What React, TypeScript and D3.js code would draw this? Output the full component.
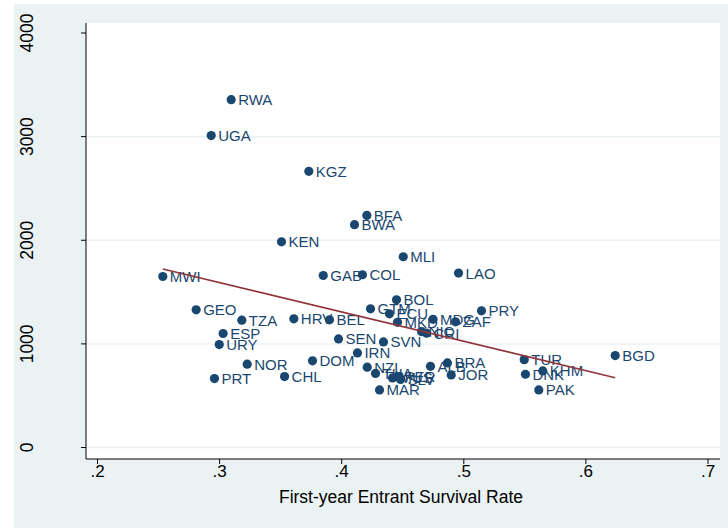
import React from "react";
import * as d3 from "d3";

const countries = ["RWA","UGA","KGZ","BFA","BWA","KEN","MLI","LAO","MWI","GAB","COL","BOL","GEO","GTM","ECU","PRY","TZA","HRV","BEL","MKD","MDG","ZAF","NIC","CRI","SEN","SVN","URY","ESP","IRN","DOM","NZL","ALB","BRA","JOR","THA","MUS","PER","SLV","MAR","NOR","PRT","CHL","TUR","DNK","KHM","PAK","BGD"];
const survival = [0.3095,0.2931,0.3731,0.4206,0.4105,0.3507,0.4504,0.4957,0.2535,0.3849,0.4170,0.4449,0.2808,0.4236,0.4391,0.5145,0.3182,0.3608,0.3900,0.4457,0.4748,0.4932,0.4654,0.4695,0.3974,0.4342,0.2997,0.3029,0.4129,0.3761,0.4209,0.4727,0.4866,0.4897,0.4277,0.4416,0.4457,0.4482,0.4310,0.3226,0.2958,0.3532,0.5495,0.5505,0.5647,0.5614,0.6240];
const values = [3357,3010,2665,2240,2150,1985,1841,1683,1650,1660,1667,1425,1329,1338,1290,1319,1229,1242,1232,1208,1237,1213,1119,1103,1048,1019,993,1100,913,836,775,783,816,700,715,671,686,657,556,804,665,684,848,707,739,556,887];

const xTicks = [0.2, 0.3, 0.4, 0.5, 0.6, 0.7];
const xTickLabels = [".2", ".3", ".4", ".5", ".6", ".7"];
const yTicks = [0, 1000, 2000, 3000, 4000];
const gridTicks = [0, 1000, 2000, 3000];
const fitX = [0.2535, 0.624];
const fitY = [1722, 674];

const W = 728;
const H = 528;
const FONT = "'Liberation Sans', Arial, sans-serif";
const NAVY = "#1a476f";
const BG = "#eaf2f3";

export default function App() {
  const plot = { left: 86, right: 720, top: 23, bottom: 459 };
  const x = d3.scaleLinear().domain([0.2, 0.7]).range([97.5, 708]);
  const y = d3.scaleLinear().domain([0, 4000]).range([447.5, 33]);
  const line = d3.line<number>().x((d) => x(fitX[d])).y((d) => y(fitY[d]));

  return (
    <svg width={W} height={H} style={{ position: "absolute", left: 0, top: 0, display: "block" }}>
      <rect x={0} y={0} width={W} height={H} fill="#fff" />
      <rect x={14} y={4} width={W - 14} height={H - 4} fill={BG} />
      <rect x={plot.left} y={plot.top} width={plot.right - plot.left} height={plot.bottom - plot.top} fill="#fff" />
      {gridTicks.map((t) => (
        <line key={"g" + t} x1={plot.left} x2={plot.right} y1={y(t)} y2={y(t)} stroke={BG} strokeWidth={1.5} />
      ))}
      <line x1={plot.left} x2={plot.left} y1={plot.top} y2={plot.bottom} stroke="#000" strokeWidth={1} />
      <line x1={plot.left} x2={plot.right} y1={plot.bottom} y2={plot.bottom} stroke="#000" strokeWidth={1} />
      {yTicks.map((t) => (
        <g key={"yt" + t}>
          <line x1={plot.left - 5} x2={plot.left} y1={y(t)} y2={y(t)} stroke="#000" strokeWidth={1} />
          <text
            transform={`translate(33,${y(t)}) rotate(-90)`}
            textAnchor="middle"
            fontFamily={FONT}
            fontSize={17.5}
            fill="#000"
          >
            {t}
          </text>
        </g>
      ))}
      {xTicks.map((t, i) => (
        <g key={"xt" + t}>
          <line x1={x(t)} x2={x(t)} y1={plot.bottom} y2={plot.bottom + 5} stroke="#000" strokeWidth={1} />
          <text x={x(t)} y={477} textAnchor="middle" fontFamily={FONT} fontSize={17} fill="#000">
            {xTickLabels[i]}
          </text>
        </g>
      ))}
      <text x={(plot.left + plot.right) / 2 - 2} y={503} textAnchor="middle" fontFamily={FONT} fontSize={17.5} fill="#000">
        First-year Entrant Survival Rate
      </text>
      {countries.map((c, i) => (
        <g key={c}>
          <circle cx={x(survival[i])} cy={y(values[i])} r={4.6} fill={NAVY} />
          <text x={x(survival[i]) + 7} y={y(values[i]) + 5.5} fontFamily={FONT} fontSize={15} fill={NAVY}>
            {c}
          </text>
        </g>
      ))}
      <path d={line([0, 1]) || ""} stroke="#90353b" strokeWidth={1.6} fill="none" />
    </svg>
  );
}
